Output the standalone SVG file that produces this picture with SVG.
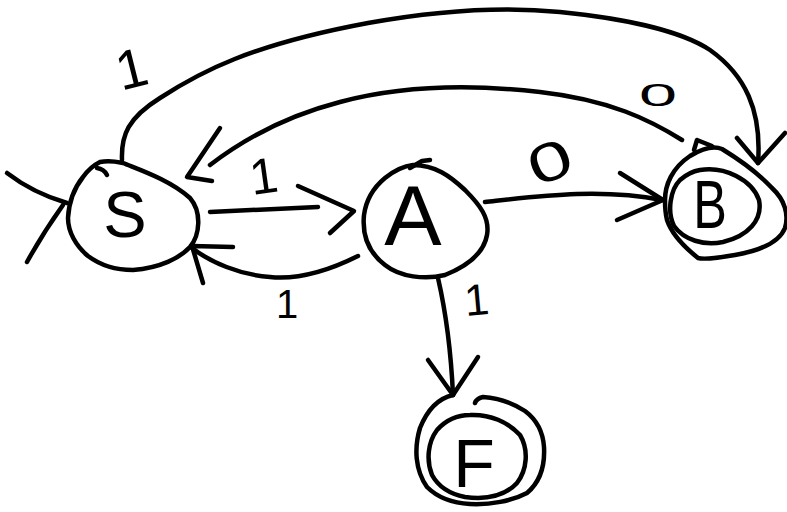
<svg xmlns="http://www.w3.org/2000/svg" width="787" height="512" viewBox="0 0 787 512">
<style>
.ln{fill:none;stroke:#000;stroke-width:4.5;stroke-linecap:round;stroke-linejoin:round}
.lb{font-family:"Liberation Sans",Arial,sans-serif;fill:#000;text-anchor:middle}
</style>
<rect width="787" height="512" fill="#fff"/>
<g id="connectors">
<path class="ln" d="M7,173 Q33,193 67,203"/>
<path class="ln" d="M27,262 Q43,233 63,205"/>
<path class="ln" d="M122,160 C121,135 128,118 160,98 C200,72 250,45 368,23 C440,10 500,6 560,12 C620,18 680,30 710,50 C745,75 762,110 758,163"/>
<path class="ln" d="M737,138 L758,163 L785,133"/>
<path class="ln" d="M682,140 C650,120 610,100 540,92 C470,84 400,86 340,102 C290,115 245,138 210,165"/>
<path class="ln" d="M220,128 L187,177 L212,181"/>
<path class="ln" d="M210,212 L318,207"/>
<path class="ln" d="M298,186 L354,211 L330,233"/>
<path class="ln" d="M358,256 C330,270 300,280 270,277 C240,275 210,262 192,248"/>
<path class="ln" d="M233,247 L192,246 L203,283"/>
<path class="ln" d="M485,202 C540,196 600,188 662,200"/>
<path class="ln" d="M620,173 L663,200 L617,220"/>
<path class="ln" d="M438,278 Q450,330 453,395"/>
<path class="ln" d="M428,360 L453,395 L478,357"/>
<text class="lb" font-size="55" transform="translate(136,87) rotate(-14)">1</text>
<text class="lb" font-size="50" transform="translate(266,193) rotate(-8)">1</text>
<text class="lb" font-size="40" x="287" y="318">1</text>
<text class="lb" font-size="44" transform="translate(478,315) rotate(-5)">1</text>
<text class="lb" font-size="36" transform="translate(658,106) scale(1.9,0.85)">0</text>
<text class="lb" font-size="54" transform="translate(557,179) rotate(-22) scale(1.45,1)">0</text>
</g>
<g id="node-S">
<path class="ln" d="M100,162 C110,160 118,162 123,163 C140,170 170,180 190,198 C202,212 200,235 190,247 C180,258 160,268 133,270 C115,270 100,265 88,256 C76,246 68,232 68,218 C69,200 75,187 83,177 C88,170 94,165 100,162 Z"/>
<path class="ln" d="M97,168 Q104,169 107,175"/>
<text class="lb" font-size="65" x="125" y="237">S</text>
</g>
<g id="node-A">
<path class="ln" d="M413,165 C435,165 450,176 465,190 C480,205 490,218 487,235 C484,252 470,265 445,275 C425,280 400,277 385,265 C368,252 362,235 364,215 C366,200 373,188 385,178 C395,170 404,166 413,165 Z"/>
<path class="ln" d="M410,168 L422,161 L430,160"/>
<text class="lb" font-size="86" x="413" y="245">A</text>
</g>
<g id="node-B">
<path class="ln" d="M665,200 C665,185 672,168 690,156 C700,150 712,145 722,149 C740,160 760,175 772,188 C785,200 789,215 785,228 C779,243 758,251 735,255 C718,258 705,260 698,258 C688,250 672,235 667,220 C665,212 665,205 665,200 Z"/>
<path class="ln" d="M694,150 L697,140 L712,146"/>
<path class="ln" d="M700,170 C725,166 752,180 759,200 C763,220 748,236 723,242 C704,246 684,240 674,226 C667,212 670,190 680,180 C688,173 694,171 700,170 Z"/>
<text class="lb" font-size="70" transform="translate(710,228) scale(0.72,0.98)">B</text>
</g>
<g id="node-F">
<path class="ln" d="M453,395 C440,398 428,408 420,428 C414,448 415,470 427,487 C437,497 452,503 470,504 C490,505 512,501 527,493 C540,482 545,465 544,447 C543,432 537,420 525,411 C513,403 498,398 483,397 C478,398 476,400 475,403"/>
<path class="ln" d="M470,415 C490,414 508,422 520,435 C529,450 527,470 517,483 C505,496 488,500 465,497 C450,494 438,486 432,475 C426,460 428,442 437,430 C446,420 458,415 470,415 Z"/>
<text class="lb" font-size="68" x="474" y="487">F</text>
</g>
</svg>
